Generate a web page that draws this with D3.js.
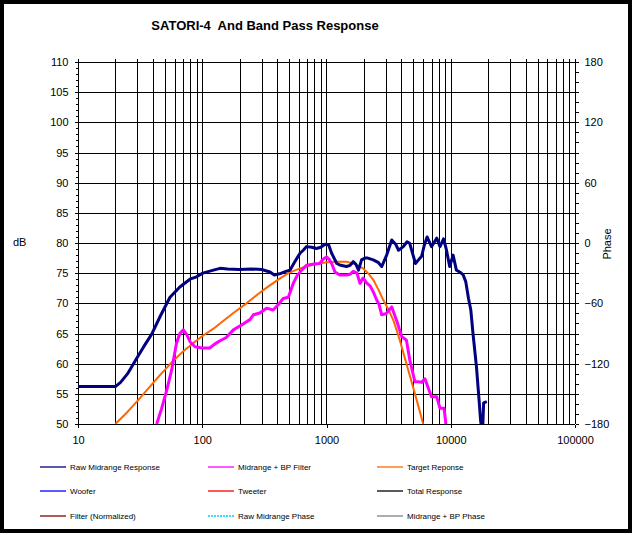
<!DOCTYPE html>
<html>
<head>
<meta charset="utf-8">
<script src="https://cdn.jsdelivr.net/npm/d3@7"></script>
<style>
  html, body { margin: 0; padding: 0; background: #fff; }
  svg { display: block; font-family: Arial, "Liberation Sans", sans-serif; }
</style>
</head>
<body>
<svg id="chart" width="634" height="535"></svg>
<script>
// response curves (Hz, dB)
const rawFreq = [10, 20, 22, 25, 29.7, 34, 39.2, 46, 55, 66, 79.6, 90, 101, 123, 139, 160, 200, 250, 300, 351, 380, 420, 470, 508, 560, 612, 650, 689, 760, 830, 900, 973, 1040, 1100, 1210, 1300, 1450, 1550, 1640, 1720, 1810, 1915, 2040, 2150, 2380, 2600, 2780, 3050, 3350, 3600, 3800, 4150, 4450, 4680, 5200, 5500, 5830, 6100, 6450, 7000, 7710, 8200, 8750, 9200, 9800, 10450, 11100, 11800, 12600, 13200, 13900, 14500, 15100, 16100, 16900, 17400, 17700, 18100, 18400, 19500];
const rawDb = [56.2, 56.2, 56.9, 58.3, 60.9, 62.9, 64.9, 67.9, 71.0, 72.7, 74.0, 74.4, 75.0, 75.5, 75.8, 75.7, 75.6, 75.7, 75.6, 75.2, 74.7, 74.9, 75.3, 75.5, 77.0, 78.3, 78.8, 79.4, 79.3, 79.1, 79.3, 79.8, 79.7, 78.3, 76.6, 76.3, 76.1, 76.3, 76.9, 76.5, 75.5, 77.2, 77.5, 77.5, 77.2, 76.8, 76.1, 78.0, 80.5, 79.8, 78.8, 79.4, 80.2, 79.9, 76.6, 77.2, 77.8, 79.5, 81.0, 79.4, 80.8, 79.4, 80.7, 79.0, 76.1, 78.0, 75.5, 75.2, 74.7, 73.6, 70.8, 68.9, 65.0, 59.5, 54.0, 50.5, 49.5, 49.6, 53.5, 53.7];

const bpFreq = [43, 47, 51.8, 56.8, 62, 66, 70.4, 75, 80, 87.5, 100, 115, 125, 139, 155, 178, 210, 242, 258, 290, 330, 372, 410, 448, 493, 540, 580, 630, 690, 780, 880, 940, 1000, 1050, 1100, 1170, 1280, 1450, 1546, 1640, 1760, 1860, 1970, 2100, 2240, 2380, 2530, 2650, 2780, 3020, 3350, 3690, 4030, 4400, 4680, 5150, 5500, 5830, 6200, 6610, 7000, 7710, 8200, 8840, 9200];
const bpDb = [50.0, 52.5, 55.6, 59.0, 63.4, 65.0, 65.6, 64.8, 63.6, 62.8, 62.6, 62.6, 63.2, 63.8, 64.3, 65.6, 66.5, 67.3, 68.1, 68.4, 69.2, 68.9, 69.8, 70.8, 71.0, 73.3, 74.6, 75.5, 76.3, 76.5, 76.6, 77.3, 77.7, 77.3, 76.6, 75.2, 74.7, 74.7, 74.8, 75.3, 75.0, 73.3, 74.2, 73.4, 72.9, 71.9, 70.6, 69.8, 68.1, 68.3, 69.4, 67.0, 64.5, 63.9, 60.6, 57.0, 57.0, 56.9, 57.5, 55.9, 54.5, 54.5, 52.6, 52.6, 49.5];

const targetFreq = [20, 25, 30, 37.9, 47, 58.5, 70, 84.5, 99, 123, 150, 178, 227, 280, 330, 420, 493, 612, 780, 1000, 1200, 1450, 1700, 1970, 2200, 2380, 2600, 2870, 3180, 3480, 3890, 4400, 5150, 5600, 6000];
const targetDb = [50.0, 52.0, 53.8, 56.2, 58.4, 60.5, 62.0, 63.4, 64.5, 65.8, 67.2, 68.4, 70.0, 71.5, 72.6, 74.1, 75.0, 75.8, 76.4, 76.8, 76.9, 76.9, 76.5, 75.8, 74.8, 73.9, 72.4, 70.5, 68.8, 67.0, 63.9, 60.0, 55.0, 52.3, 50.0];

// axes
const dbTicks = [50, 55, 60, 65, 70, 75, 80, 85, 90, 95, 100, 105, 110];
const phaseTicks = [-180, -120, -60, 0, 60, 120, 180];
const freqTicks = [10, 100, 1000, 10000, 100000];

// legend entries
const legendNames = ["Raw Midrange Response", "Midrange + BP Filter", "Target Reponse",
  "Woofer", "Tweeter", "Total Response",
  "Filter (Normalized)", "Raw Midrange Phase", "Midrange + BP Phase"];
const legendColors = ["#000080", "#ff00ff", "#ff6600",
  "#0000ff", "#ff0000", "#000000",
  "#800000", "#00ccff", "#808080"];

const svg = d3.select("#chart");

const x = d3.scaleLog().domain([10, 100000]).range([78, 575]);
const y = d3.scaleLinear().domain([50, 110]).range([424, 62]);
const yPhase = d3.scaleLinear().domain([-180, 180]).range([424, 62]);

// outer frame
svg.append("rect")
  .attr("x", 2).attr("y", 2).attr("width", 628).attr("height", 529)
  .attr("fill", "#fff").attr("stroke", "#000").attr("stroke-width", 4);

svg.append("text")
  .attr("x", 265).attr("y", 30)
  .attr("text-anchor", "middle")
  .attr("font-size", 13).attr("font-weight", "bold")
  .attr("xml:space", "preserve")
  .style("white-space", "pre")
  .text("SATORI-4  And Band Pass Response");

// grid
const grid = svg.append("g").attr("shape-rendering", "crispEdges").attr("stroke", "#000");
const vLines = [];
[10, 100, 1000, 10000].forEach((dec) => {
  for (let m = 1; m < 10; m++) vLines.push(dec * m);
});
vLines.push(100000);
grid.selectAll(".v").data(vLines).join("line")
  .attr("x1", (d) => Math.round(x(d)) + 0.5).attr("x2", (d) => Math.round(x(d)) + 0.5)
  .attr("y1", 59).attr("y2", 424);
grid.selectAll(".h").data(dbTicks).join("line")
  .attr("x1", 75).attr("x2", 575).attr("y1", (d) => Math.round(y(d)) + 0.5).attr("y2", (d) => Math.round(y(d)) + 0.5);

// left axis
const yAxis = d3.axisLeft(y).tickValues(dbTicks).tickSize(3).tickPadding(7);
const gy = svg.append("g").attr("transform", "translate(78.5,0)").call(yAxis);
gy.append("g").selectAll("line").data(d3.range(50, 111))
  .join("line").attr("x1", -3).attr("x2", 0)
  .attr("y1", (d) => Math.round(y(d)) + 0.5).attr("y2", (d) => Math.round(y(d)) + 0.5)
  .attr("stroke", "#000");

// right axis (phase)
const pAxis = d3.axisRight(yPhase).tickValues(phaseTicks).tickSize(3).tickPadding(6);
const gp = svg.append("g").attr("transform", "translate(575.5,0)").call(pAxis);
gp.append("g").selectAll("line").data(d3.range(-180, 181, 10))
  .join("line").attr("x1", 0).attr("x2", 3)
  .attr("y1", (d) => Math.round(yPhase(d)) + 0.5).attr("y2", (d) => Math.round(yPhase(d)) + 0.5)
  .attr("stroke", "#000");

// bottom axis
const xAxis = d3.axisBottom(x).tickValues(freqTicks).tickFormat(d3.format("d")).tickSize(3).tickPadding(9);
const gx = svg.append("g").attr("transform", "translate(0,424.5)").call(xAxis);

[gy, gp, gx].forEach((g) => {
  g.select(".domain").attr("stroke", "#000");
  g.selectAll(".tick line").attr("stroke", "#000");
  g.selectAll(".tick text").attr("font-size", 11).attr("fill", "#000")
    .attr("font-family", "Arial, 'Liberation Sans', sans-serif");
  g.attr("shape-rendering", "crispEdges");
});
gy.select(".domain").remove();
gp.select(".domain").remove();
gx.select(".domain").remove();

svg.append("text").attr("x", 13).attr("y", 246).attr("font-size", 11).text("dB");
svg.append("text")
  .attr("transform", "translate(611,244) rotate(-90)")
  .attr("text-anchor", "middle").attr("font-size", 11).text("Phase");

// curves
svg.append("clipPath").attr("id", "plot")
  .append("rect").attr("x", 78).attr("y", 62).attr("width", 497).attr("height", 362);

const line = d3.line().x((d) => x(d[0])).y((d) => y(d[1]));
const series = [
  { f: targetFreq, v: targetDb, color: "#ff6600", w: 2 },
  { f: bpFreq, v: bpDb, color: "#ff00ff", w: 3 },
  { f: rawFreq, v: rawDb, color: "#000080", w: 3 },
];
const curves = svg.append("g").attr("clip-path", "url(#plot)");
series.forEach((s) => {
  curves.append("path")
    .datum(d3.zip(s.f, s.v))
    .attr("d", line)
    .attr("fill", "none")
    .attr("stroke", s.color)
    .attr("stroke-width", s.w)
    .attr("stroke-linejoin", "round");
});

// legend
const colX = [40, 208, 377];
const rowY = [467, 491, 516];
const leg = svg.append("g").selectAll("g").data(legendNames).join("g")
  .attr("transform", (d, i) => `translate(${colX[i % 3]},${rowY[Math.floor(i / 3)]})`);
leg.append("line")
  .attr("x1", 0).attr("x2", 26).attr("y1", 0).attr("y2", 0)
  .attr("stroke", (d, i) => legendColors[i])
  .attr("stroke-width", 1.3)
  .attr("stroke-dasharray", (d, i) => (i === 7 ? "2,1" : null));
leg.append("text")
  .attr("x", 30).attr("y", 3)
  .attr("font-size", 8)
  .text((d) => d);
</script>
</body>
</html>
